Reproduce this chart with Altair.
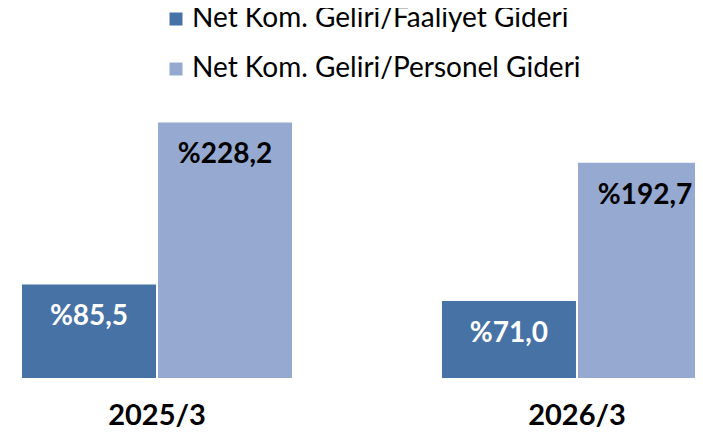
import altair as alt
import pandas as pd

periods = ["2025/3", "2026/3"]
series = ["Net Kom. Geliri/Faaliyet Gideri", "Net Kom. Geliri/Personel Gideri"]
faaliyet = [85.5, 71.0]
personel = [228.2, 192.7]
colors = ["#4672A6", "#95A9D1"]

rows = []
for i, p in enumerate(periods):
    for s, vals in zip(series, [faaliyet, personel]):
        v = vals[i]
        rows.append({"period": p, "series": s, "value": v,
                     "label": "%" + f"{v:.1f}".replace(".", ",")})
df = pd.DataFrame(rows)

FONT = "Lato"

x = alt.X("period:N", sort=periods,
          scale=alt.Scale(range=[0, 718], paddingInner=0.357, paddingOuter=0.0333),
          axis=alt.Axis(title=None, ticks=False, tickSize=0, domain=False, labelAngle=0,
                        labelFont=FONT, labelFontSize=29, labelFontWeight="bold",
                        labelColor="#000000", labelBaseline="alphabetic", labelPadding=46))
xo = alt.XOffset("series:N", sort=series, scale=alt.Scale(paddingInner=0.015))
y = alt.Y("value:Q", scale=alt.Scale(domain=[3.1, 329], zero=False), axis=None)

bars = alt.Chart(df).mark_bar(clip=True).encode(
    x=x, xOffset=xo, y=y,
    color=alt.Color("series:N", sort=series,
                    scale=alt.Scale(domain=series, range=colors),
                    legend=alt.Legend(title=None, orient="none", legendX=154, legendY=-3,
                                      direction="vertical", symbolType="square",
                                      symbolSize=169, symbolStrokeWidth=0,
                                      labelFont=FONT, labelFontSize=28, labelColor="#000000",
                                      labelOffset=2, labelLimit=600, rowPadding=22)),
)

text = alt.Chart(df).mark_text(font=FONT, fontSize=28, fontWeight="bold",
                               baseline="middle", dy=33).encode(
    x=x, xOffset=xo, y=y, text="label:N",
    color=alt.condition(alt.datum.series == series[0], alt.value("#FFFFFF"), alt.value("#000000")),
)

chart = alt.layer(bars, text).properties(
    width=687, height=370,
    autosize=alt.AutoSizeParams(type="none"),
    padding={"left": 0, "right": 0, "top": 0, "bottom": 52},
).configure_view(stroke=None)

chart.save("out.html", embed_options={"renderer": "svg", "actions": False})
